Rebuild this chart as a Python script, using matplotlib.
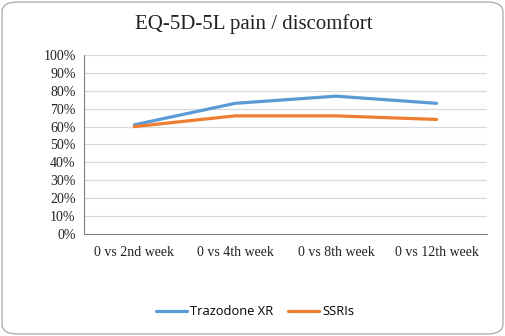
import matplotlib.pyplot as plt
from matplotlib.patches import FancyBboxPatch
from matplotlib.ticker import PercentFormatter

# data
weeks = ["0 vs 2nd week", "0 vs 4th week", "0 vs 8th week", "0 vs 12th week"]
trazodone = [61, 73, 77, 73]
ssris = [60, 66, 66, 64]

fig = plt.figure(figsize=(5.05, 3.36), dpi=100)

# rounded chart border
border = FancyBboxPatch((0.004, 0.006), 0.992, 0.988, boxstyle="round,pad=0,rounding_size=0.03",
                        transform=fig.transFigure, fill=False, edgecolor="#a6a6a6", linewidth=0.9)
fig.patches.append(border)

ax = fig.add_axes([0.1663, 0.3036, 0.7981, 0.5327])
x = range(len(weeks))
ax.plot(x, trazodone, color="#5b9bd5", linewidth=2.3, label="Trazodone XR", solid_capstyle="round")
ax.plot(x, ssris, color="#ed7d31", linewidth=2.3, label="SSRIs", solid_capstyle="round")

ax.set_xlim(-0.5, 3.5)
ax.set_ylim(0, 100)
ax.set_yticks(range(0, 101, 10))
ax.yaxis.set_major_formatter(PercentFormatter(decimals=0))
ax.set_xticks(list(x))
ax.set_xticklabels(weeks)
ax.grid(axis="y", color="#d9d9d9", linewidth=0.9)
ax.set_axisbelow(True)
for s in ["top", "right"]:
    ax.spines[s].set_visible(False)
ax.spines["left"].set_color("#7f7f7f")
ax.spines["bottom"].set_color("#7f7f7f")
ax.tick_params(length=0, labelsize=10, pad=6)
for lab in ax.get_xticklabels() + ax.get_yticklabels():
    lab.set_family("Liberation Serif")
    lab.set_color("#222222")
ax.tick_params(axis="x", pad=9)

fig.text(0.502, 0.928, "EQ-5D-5L pain / discomfort", ha="center", va="center",
         family="Liberation Serif", fontsize=15, color="#222222")

fig.legend(loc="center", bbox_to_anchor=(0.505, 0.072), ncol=2, frameon=False,
           prop={"family": "Open Sans", "size": 9.3}, handlelength=2.4, columnspacing=1.2,
           handletextpad=0.2)

fig.savefig("out.png", dpi=100)
